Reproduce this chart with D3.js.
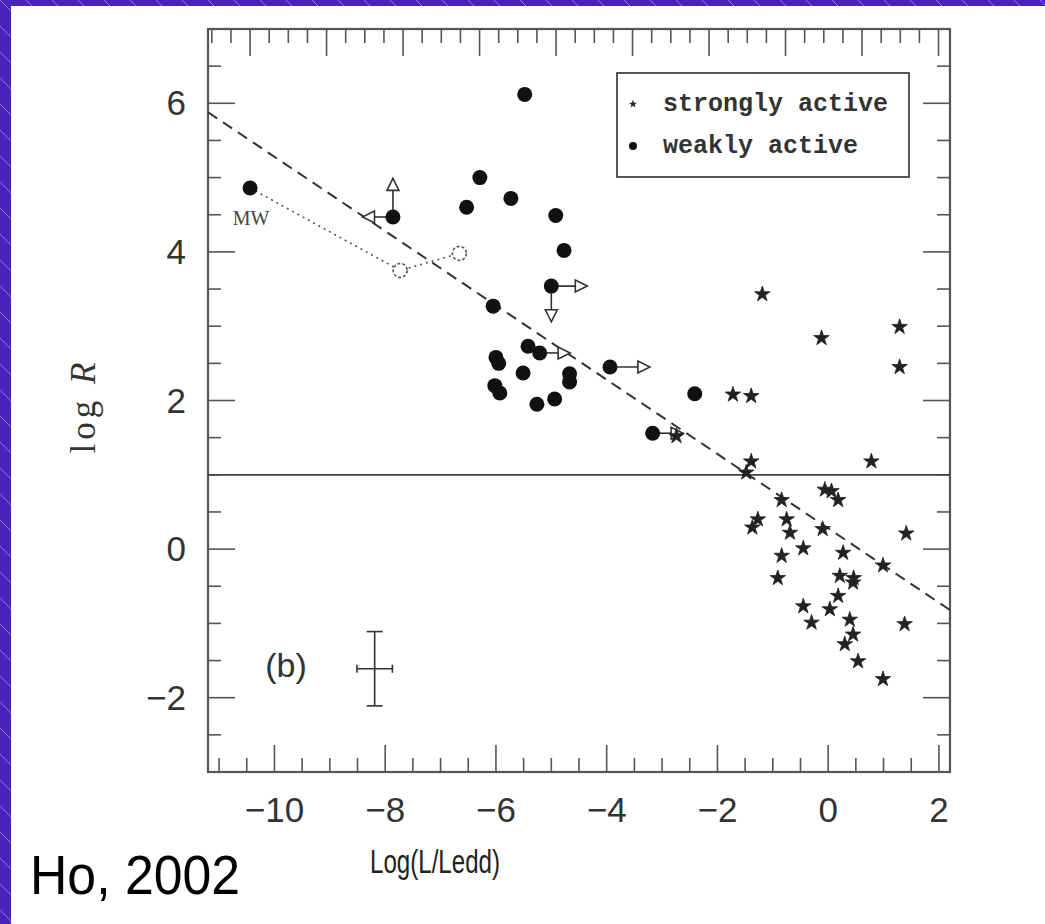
<!DOCTYPE html>
<html><head><meta charset="utf-8">
<script src="https://cdn.jsdelivr.net/npm/d3@7"></script>
<style>html,body{margin:0;padding:0;background:#4a22bd;overflow:hidden}</style>
</head><body><svg id="c" width="1045" height="924"></svg>
<script>
// ---------- data ----------
const strongX = [-1.19,-0.12,1.29,1.29,-1.72,-1.39,-2.74,-1.39,-1.48,0.78,-0.06,0.06,0.18,-0.84,-1.27,-1.37,-0.75,-0.69,-0.10,1.41,-0.45,0.27,-0.84,0.99,-0.91,0.21,0.45,0.46,0.18,0.03,-0.45,-0.30,0.39,0.45,0.30,0.54,0.99,1.38];
const strongY = [3.43,2.84,2.99,2.45,2.08,2.06,1.52,1.18,1.03,1.18,0.80,0.78,0.66,0.66,0.40,0.29,0.40,0.22,0.27,0.21,0.01,-0.05,-0.09,-0.22,-0.39,-0.36,-0.45,-0.39,-0.63,-0.81,-0.77,-0.99,-0.95,-1.15,-1.28,-1.51,-1.75,-1.01];
const weakX = [-10.44,-5.48,-6.29,-5.73,-6.53,-4.92,-4.77,-7.86,-5.0,-6.05,-6.0,-5.95,-6.02,-5.93,-5.42,-5.51,-5.21,-5.26,-4.94,-4.67,-4.67,-3.94,-2.41,-3.17];
const weakY = [4.86,6.12,5.0,4.72,4.60,4.49,4.02,4.47,3.54,3.27,2.58,2.50,2.20,2.10,2.73,2.37,2.64,1.95,2.02,2.36,2.25,2.45,2.09,1.56];
const openX = [-7.73,-6.66];
const openY = [3.75,3.98];
// limit arrows: start point and displacement (data units)
const arrowX  = [-7.86,-7.86,-5.0,-5.0,-5.21,-3.94,-3.17];
const arrowY  = [4.47,4.47,3.54,3.54,2.64,2.45,1.56];
const arrowDX = [-0.55,0,0.65,0,0.55,0.72,0.55];
const arrowDY = [0,0.52,0,-0.48,0,0,0];
const fitX = [-11.2, 2.2];
const fitY = [5.88, -0.82];
const refY = 1;
const errBar = {x:-8.19, y:-1.61, dx:0.32, dy:0.5};
const xTicks = [-10,-8,-6,-4,-2,0,2];
const yTicks = [-2,0,2,4,6];
const legendLabels = ["strongly active","weakly active"];

// ---------- layout ----------
const svg = d3.select("#c");
const L=208, R=950, T=29, B=772;
const x = d3.scaleLinear().domain([-11.2,2.2]).range([L,R]);
const y = d3.scaleLinear().domain([-3,7]).range([B,T]);
const xTop = d3.scaleLinear().domain([-0.55,9.15]).range([L,R]);

// background
const defs = svg.append("defs");
const pat = defs.append("pattern").attr("id","hatch").attr("patternUnits","userSpaceOnUse")
  .attr("width",26).attr("height",26);
pat.append("rect").attr("width",26).attr("height",26).attr("fill","#4a22bd");
pat.append("path").attr("d","M-2,-2 L28,28 M-28,-2 L2,28 M24,-2 L54,28").attr("stroke","#8c79dc").attr("stroke-width",1);
svg.append("rect").attr("width",1045).attr("height",924).attr("fill","url(#hatch)");
svg.append("rect").attr("x",11).attr("y",6).attr("width",1034).attr("height",918).attr("fill","#ffffff");

const g = svg.append("g");

// ticks (inward)
const yMinor = d3.range(-3,7.01,0.5);
const xMinor = d3.range(-11,2.01,0.5);
const topMinor = d3.range(-0.5,9.01,0.25);
const tickG = g.append("g").attr("stroke","#555").attr("stroke-width",1.6);
yMinor.forEach(v=>{
  const major = Math.abs(v%2)<1e-6;
  const len = major?27:13;
  tickG.append("line").attr("x1",L).attr("x2",L+len).attr("y1",y(v)).attr("y2",y(v));
  tickG.append("line").attr("x1",R).attr("x2",R-len).attr("y1",y(v)).attr("y2",y(v));
});
xMinor.forEach(v=>{
  const major = Math.abs(v%2)<1e-6;
  const len = major?27:14;
  tickG.append("line").attr("x1",x(v)).attr("x2",x(v)).attr("y1",B).attr("y2",B-len);
});
topMinor.forEach(v=>{
  const major = Math.abs(v%1)<1e-6;
  const len = major?27:14;
  tickG.append("line").attr("x1",xTop(v)).attr("x2",xTop(v)).attr("y1",T).attr("y2",T+len);
});

// frame
g.append("rect").attr("x",L).attr("y",T).attr("width",R-L).attr("height",B-T)
  .attr("fill","none").attr("stroke","#555").attr("stroke-width",2.2);

// tick labels
const fmt = v => v<0 ? "\u2212"+Math.abs(v) : String(v);
g.append("g").selectAll("text").data(xTicks).join("text")
  .attr("x",d=>x(d)).attr("y",822).attr("text-anchor","middle")
  .attr("font-family","Liberation Sans, Arial, sans-serif").attr("font-size",35).attr("fill","#333")
  .text(fmt);
g.append("g").selectAll("text").data(yTicks).join("text")
  .attr("x",186).attr("y",d=>y(d)+12).attr("text-anchor","end")
  .attr("font-family","Liberation Sans, Arial, sans-serif").attr("font-size",35).attr("fill","#333")
  .text(fmt);

// axis titles
g.append("text").attr("transform","translate(95,406) rotate(-90)").attr("text-anchor","middle")
  .attr("font-family","Liberation Serif, Times New Roman, serif").attr("font-size",35).attr("fill","#333")
  .attr("letter-spacing",4)
  .call(t=>{t.append("tspan").text("log ");t.append("tspan").attr("font-style","italic").text("R");});
g.append("text").attr("x",435).attr("y",873).attr("text-anchor","middle")
  .attr("font-family","Liberation Sans, Arial, sans-serif").attr("font-size",33).attr("fill","#222")
  .attr("textLength",130).attr("lengthAdjust","spacingAndGlyphs")
  .text("Log(L/Ledd)");
svg.append("text").attr("x",30).attr("y",894)
  .attr("font-family","Liberation Sans, Arial, sans-serif").attr("font-size",55).attr("fill","#000")
  .attr("textLength",210).attr("lengthAdjust","spacingAndGlyphs")
  .text("Ho, 2002");

// reference lines
g.append("line").attr("x1",L).attr("x2",R).attr("y1",y(refY)).attr("y2",y(refY))
  .attr("stroke","#444").attr("stroke-width",1.8);
g.append("path").attr("d",d3.line().x((d,i)=>x(d)).y((d,i)=>y(fitY[i]))(fitX))
  .attr("stroke","#333").attr("stroke-width",2).attr("stroke-dasharray","11,7").attr("fill","none");
const dotPts = [[weakX[0],weakY[0]],[openX[0],openY[0]],[openX[1],openY[1]]];
g.append("path").attr("d",d3.line().x(d=>x(d[0])).y(d=>y(d[1]))(dotPts))
  .attr("stroke","#555").attr("stroke-width",1.6).attr("stroke-dasharray","2,4").attr("fill","none");

// arrows
const arrowG = g.append("g");
arrowX.forEach((ax,i)=>{
  const x1=x(ax), y1=y(arrowY[i]), x2=x(ax+arrowDX[i]), y2=y(arrowY[i]+arrowDY[i]);
  arrowG.append("line").attr("x1",x1).attr("y1",y1).attr("x2",x2).attr("y2",y2)
    .attr("stroke","#333").attr("stroke-width",1.6);
  const ang = Math.atan2(y2-y1,x2-x1);
  const hl=12, hw=6;
  const bx = x2 - hl*Math.cos(ang), by = y2 - hl*Math.sin(ang);
  const px = -Math.sin(ang)*hw, py = Math.cos(ang)*hw;
  arrowG.append("path").attr("d",`M${x2},${y2}L${bx+px},${by+py}L${bx-px},${by-py}Z`)
    .attr("fill","#fff").attr("stroke","#333").attr("stroke-width",1.6);
});

// error bar
const eb = g.append("g").attr("stroke","#333").attr("stroke-width",1.6);
eb.append("line").attr("x1",x(errBar.x-errBar.dx)).attr("x2",x(errBar.x+errBar.dx)).attr("y1",y(errBar.y)).attr("y2",y(errBar.y));
eb.append("line").attr("x1",x(errBar.x)).attr("x2",x(errBar.x)).attr("y1",y(errBar.y-errBar.dy)).attr("y2",y(errBar.y+errBar.dy));
[errBar.y-errBar.dy, errBar.y+errBar.dy].forEach(v=>eb.append("line").attr("x1",x(errBar.x)-8).attr("x2",x(errBar.x)+8).attr("y1",y(v)).attr("y2",y(v)));
[errBar.x-errBar.dx, errBar.x+errBar.dx].forEach(v=>eb.append("line").attr("x1",x(v)).attr("x2",x(v)).attr("y1",y(errBar.y)-4).attr("y2",y(errBar.y)+4));

// points
const star = d3.symbol().type(d3.symbolStar).size(75);
g.append("g").selectAll("path").data(strongX).join("path")
  .attr("transform",(d,i)=>`translate(${x(d)},${y(strongY[i])})`).attr("d",star)
  .attr("fill","#222").attr("stroke","#222").attr("stroke-width",0.8);
g.append("g").selectAll("circle").data(weakX).join("circle")
  .attr("cx",d=>x(d)).attr("cy",(d,i)=>y(weakY[i])).attr("r",7.5).attr("fill","#111");
g.append("g").selectAll("circle").data(openX).join("circle")
  .attr("cx",d=>x(d)).attr("cy",(d,i)=>y(openY[i])).attr("r",7).attr("fill","#fff")
  .attr("stroke","#555").attr("stroke-width",1.6).attr("stroke-dasharray","3,2");

// labels
g.append("text").attr("x",x(weakX[0])+1).attr("y",y(weakY[0])+37).attr("text-anchor","middle")
  .attr("font-family","Liberation Serif, Times New Roman, serif").attr("font-size",20).attr("fill","#444").text("MW");
g.append("text").attr("x",286).attr("y",677).attr("text-anchor","middle")
  .attr("font-family","Liberation Sans, Arial, sans-serif").attr("font-size",34).attr("fill","#333").text("(b)");

// legend
const lg = g.append("g");
lg.append("rect").attr("x",617).attr("y",73).attr("width",292).attr("height",104)
  .attr("fill","#fff").attr("stroke","#444").attr("stroke-width",1.8);
lg.append("path").attr("transform","translate(633,104)").attr("d",d3.symbol().type(d3.symbolStar).size(22)).attr("fill","#222");
lg.append("circle").attr("cx",633).attr("cy",146).attr("r",4).attr("fill","#111");
lg.selectAll("text").data(legendLabels).join("text")
  .attr("x",663).attr("y",(d,i)=>111+i*42)
  .attr("font-family","Liberation Mono, Courier New, monospace").attr("font-size",25).attr("fill","#333")
  .attr("font-weight","bold").text(d=>d);
</script></body></html>
